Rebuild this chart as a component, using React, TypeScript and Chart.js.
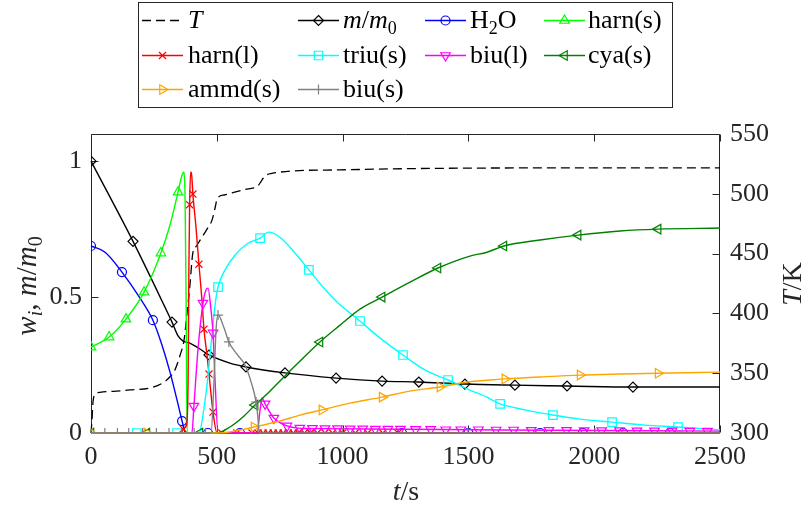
import React, { useEffect, useRef } from "react";
import { Chart, registerables } from "chart.js";

Chart.register(...registerables);

const SERIF = "Liberation Serif";
const INK = "#262626";

const timeTicks = [0, 500, 1000, 1500, 2000, 2500];
const massTicks = [0, 0.5, 1];
const tempTicks = [300, 350, 400, 450, 500, 550];

const tempCurve = [
  [0, 300], [4, 311], [8, 326], [16, 332], [36, 334], [100, 335], [155, 336], [234, 337.6],
  [286, 342], [314, 347], [334, 353], [354, 365], [370, 378], [382, 401], [393, 423],
  [405, 451], [418, 456], [433, 461], [460, 470], [481, 478], [495, 490], [501, 496],
  [530, 499], [564, 501], [620, 504], [660, 506], [675, 510], [684, 513], [700, 516],
  [719, 517], [791, 519], [990, 520], [1256, 521], [1697, 521.6], [2500, 521.6],
];

const massCurve = [
  [0, 1.0], [167, 0.705], [294, 0.463], [322, 0.408], [346, 0.357], [366, 0.338], [393, 0.331],
  [433, 0.309], [469, 0.287], [552, 0.257], [616, 0.243], [771, 0.221], [974, 0.202],
  [1157, 0.191], [1303, 0.1875], [1486, 0.18], [1685, 0.176], [1892, 0.173], [2154, 0.169],
  [2500, 0.169],
];
const massMarks = [
  [0, 1.0], [167, 0.705], [322, 0.408], [469, 0.287], [616, 0.243], [771, 0.221], [974, 0.202],
  [1157, 0.191], [1303, 0.1875], [1486, 0.18], [1685, 0.176], [1892, 0.173], [2154, 0.169],
];

const h2oCurve = [
  [0, 0.688], [56, 0.665], [123, 0.592], [187, 0.507], [246, 0.415], [282, 0.324], [314, 0.224],
  [342, 0.121], [362, 0.044], [374, 0.003], [380, 0], [2500, 0],
];
const h2oMarks = [
  [0, 0.688], [123, 0.592], [246, 0.415], [362, 0.044], [465, 0], [592, 0], [850, 0], [1236, 0],
  [1500, 0], [1785, 0], [1955, 0], [2115, 0], [2301, 0],
];

const harnSCurve = [
  [0, 0.316], [72, 0.353], [139, 0.419], [211, 0.518], [278, 0.662], [314, 0.765], [346, 0.886],
  [362, 0.949], [370, 0.96], [374, 0.857], [378, 0.49], [382, 0], [2500, 0],
];
const harnSMarks = [
  [0, 0.316], [72, 0.353], [139, 0.419], [211, 0.518], [278, 0.662], [346, 0.886],
];

const harnLCurve = [
  [0, 0], [360, 0], [366, 0.015], [380, 0.03], [386, 0.2], [389, 0.6], [392, 0.84], [396, 0.96],
  [400, 0.95], [405, 0.879], [417, 0.76], [429, 0.621], [441, 0.489], [449, 0.382], [461, 0.287],
  [469, 0.217], [485, 0.077], [501, 0], [2500, 0],
];
const harnLMarks = [
  [366, 0.015], [392, 0.84], [405, 0.879], [429, 0.621], [449, 0.382], [469, 0.217], [485, 0.077],
  [520, 0], [580, 0], [640, 0], [664, 0], [684, 0], [704, 0], [724, 0], [744, 0], [764, 0],
  [784, 0], [804, 0], [824, 0], [848, 0], [872, 0], [900, 0], [930, 0], [960, 0], [1000, 0],
  [1050, 0], [1100, 0], [1160, 0], [1220, 0],
];

const triuCurve = [
  [0, 0], [430, 0], [445, 0.066], [461, 0.176], [477, 0.324], [493, 0.47], [505, 0.537],
  [533, 0.6], [572, 0.654], [624, 0.698], [672, 0.717], [707, 0.739], [751, 0.72], [811, 0.662],
  [866, 0.6], [922, 0.537], [978, 0.482], [1069, 0.412], [1149, 0.349], [1240, 0.287],
  [1327, 0.232], [1419, 0.195], [1506, 0.158], [1574, 0.132], [1600, 0.118], [1626, 0.107],
  [1725, 0.085], [1836, 0.066], [1944, 0.051], [2071, 0.04], [2202, 0.029], [2333, 0.022],
  [2500, 0.011],
];
const triuMarks = [
  [182, 0], [342, 0], [505, 0.537], [672, 0.717], [866, 0.6], [1069, 0.412], [1240, 0.287],
  [1419, 0.195], [1626, 0.107], [1836, 0.066], [2071, 0.04], [2333, 0.022],
];

const biuLCurve = [
  [0, 0], [401, 0], [409, 0.099], [425, 0.305], [445, 0.478], [457, 0.526], [465, 0.533],
  [477, 0.452], [485, 0.368], [493, 0.195], [505, 0], [660, 0], [672, 0.085], [680, 0.129],
  [692, 0.107], [727, 0.055], [779, 0.026], [823, 0.018], [910, 0.016], [1228, 0.014],
  [1626, 0.011], [2500, 0.007],
];
const biuLMarks = [
  [409, 0.099], [445, 0.478], [485, 0.368], [692, 0.107], [727, 0.055], [779, 0.026],
  [830, 0.018], [880, 0.017], [930, 0.016], [980, 0.016], [1030, 0.015], [1080, 0.015],
  [1130, 0.014], [1180, 0.014], [1230, 0.014], [1290, 0.013], [1350, 0.013], [1410, 0.012],
  [1470, 0.012], [1540, 0.012], [1610, 0.011], [1680, 0.011], [1750, 0.01], [1820, 0.01],
  [1890, 0.01], [1960, 0.009], [2030, 0.009], [2100, 0.009], [2170, 0.008], [2240, 0.008],
  [2310, 0.008], [2380, 0.007], [2450, 0.007],
];

const cyaCurve = [
  [0, 0], [501, 0], [552, 0.022], [604, 0.059], [652, 0.103], [711, 0.154], [771, 0.21],
  [831, 0.265], [910, 0.335], [990, 0.397], [1069, 0.456], [1157, 0.5], [1268, 0.555],
  [1379, 0.607], [1506, 0.651], [1574, 0.665], [1641, 0.688], [1785, 0.71], [1936, 0.728],
  [2103, 0.743], [2254, 0.75], [2500, 0.754],
];
const cyaMarks = [
  [0, 0], [222, 0], [433, 0], [652, 0.103], [910, 0.335], [1157, 0.5], [1379, 0.607],
  [1641, 0.688], [1936, 0.728], [2254, 0.75],
];

const ammdCurve = [
  [0, 0], [505, 0], [592, 0.011], [648, 0.022], [751, 0.044], [831, 0.066], [918, 0.085],
  [1029, 0.11], [1157, 0.132], [1268, 0.154], [1387, 0.169], [1494, 0.1875], [1586, 0.195],
  [1645, 0.199], [1785, 0.206], [1944, 0.213], [2103, 0.217], [2254, 0.22], [2500, 0.224],
];
const ammdMarks = [
  [0, 0], [222, 0], [648, 0.022], [918, 0.085], [1157, 0.132], [1387, 0.169], [1645, 0.199],
  [1944, 0.213], [2254, 0.22],
];

const biuSCurve = [
  [0, 0], [477, 0], [489, 0.195], [497, 0.379], [505, 0.434], [529, 0.386], [548, 0.335],
  [580, 0.29], [612, 0.25], [640, 0.176], [656, 0.114], [664, 0.05], [668, 0], [2500, 0],
];
const biuSMarks = [
  [0, 0], [55, 0], [105, 0], [150, 0], [205, 0], [260, 0], [310, 0], [360, 0], [410, 0],
  [455, 0], [505, 0.434], [548, 0.335], [656, 0.114], [1000, 0], [1498, 0], [2003, 0],
];

type Seg = { t: string; it?: boolean; sub?: boolean };

const series: {
  name: Seg[]; color: string; curve: number[][]; marks: number[][];
  style: string | null; rot: number; r: number; dash?: number[]; axis: string;
}[] = [
  { name: [{ t: "T", it: true }], color: "#000000", curve: tempCurve, marks: [], style: null, rot: 0, r: 0, dash: [9, 5], axis: "y2" },
  { name: [{ t: "m", it: true }, { t: "/" }, { t: "m", it: true }, { t: "0", sub: true }], color: "#000000", curve: massCurve, marks: massMarks, style: "rectRot", rot: 0, r: 5, axis: "y" },
  { name: [{ t: "H" }, { t: "2", sub: true }, { t: "O" }], color: "#0000ff", curve: h2oCurve, marks: h2oMarks, style: "circle", rot: 0, r: 4.5, axis: "y" },
  { name: [{ t: "harn(s)" }], color: "#00ff00", curve: harnSCurve, marks: harnSMarks, style: "triangle", rot: 0, r: 5.5, axis: "y" },
  { name: [{ t: "harn(l)" }], color: "#ff0000", curve: harnLCurve, marks: harnLMarks, style: "crossRot", rot: 0, r: 5, axis: "y" },
  { name: [{ t: "triu(s)" }], color: "#00ffff", curve: triuCurve, marks: triuMarks, style: "rect", rot: 0, r: 6, axis: "y" },
  { name: [{ t: "biu(l)" }], color: "#ff00ff", curve: biuLCurve, marks: biuLMarks, style: "triangle", rot: 180, r: 5.5, axis: "y" },
  { name: [{ t: "cya(s)" }], color: "#008000", curve: cyaCurve, marks: cyaMarks, style: "triangle", rot: -90, r: 5.5, axis: "y" },
  { name: [{ t: "ammd(s)" }], color: "#ffa500", curve: ammdCurve, marks: ammdMarks, style: "triangle", rot: 90, r: 5.5, axis: "y" },
  { name: [{ t: "biu(s)" }], color: "#808080", curve: biuSCurve, marks: biuSMarks, style: "cross", rot: 0, r: 5, axis: "y" },
];

const xTitle: Seg[] = [{ t: "t", it: true }, { t: "/s" }];
const yTitle: Seg[] = [
  { t: "w", it: true }, { t: "i", it: true, sub: true }, { t: ", " },
  { t: "m", it: true }, { t: "/" }, { t: "m", it: true }, { t: "0", sub: true },
];
const y2Title: Seg[] = [{ t: "T", it: true }, { t: "/K" }];

const legRows = [20, 55, 89];
const legLineX = [142, 298, 425, 544];
const legTextX = [188, 343, 470, 588];

function fontOf(s: Seg, size: number) {
  return `${s.it ? "italic " : ""}${s.sub ? Math.round(size * 0.7) : size}px "${SERIF}"`;
}
function drawRich(ctx: CanvasRenderingContext2D, segs: Seg[], x: number, y: number, size: number, align: string) {
  let total = 0;
  const ws: number[] = [];
  for (const s of segs) {
    ctx.font = fontOf(s, size);
    const w = ctx.measureText(s.t).width;
    ws.push(w);
    total += w;
  }
  let cx = align === "center" ? x - total / 2 : x;
  ctx.textAlign = "left";
  ctx.textBaseline = "alphabetic";
  segs.forEach((s, i) => {
    ctx.font = fontOf(s, size);
    ctx.fillText(s.t, cx, s.sub ? y + size * 0.22 : y);
    cx += ws[i];
  });
}

function drawMarker(ctx: CanvasRenderingContext2D, style: string, x: number, y: number, r: number, rotDeg: number) {
  let rad = (rotDeg * Math.PI) / 180;
  ctx.beginPath();
  if (style === "circle") {
    ctx.arc(x, y, r, 0, Math.PI * 2);
  } else if (style === "rect") {
    const s = r * Math.SQRT1_2;
    ctx.rect(x - s, y - s, 2 * s, 2 * s);
  } else if (style === "rectRot") {
    ctx.moveTo(x, y - r); ctx.lineTo(x + r, y); ctx.lineTo(x, y + r); ctx.lineTo(x - r, y); ctx.closePath();
  } else if (style === "triangle") {
    ctx.moveTo(x + Math.sin(rad) * r, y - Math.cos(rad) * r);
    rad += (2 * Math.PI) / 3;
    ctx.lineTo(x + Math.sin(rad) * r, y - Math.cos(rad) * r);
    rad += (2 * Math.PI) / 3;
    ctx.lineTo(x + Math.sin(rad) * r, y - Math.cos(rad) * r);
    ctx.closePath();
  } else if (style === "cross") {
    ctx.moveTo(x - r, y); ctx.lineTo(x + r, y); ctx.moveTo(x, y - r); ctx.lineTo(x, y + r);
  } else if (style === "crossRot") {
    const d = r * Math.SQRT1_2;
    ctx.moveTo(x - d, y - d); ctx.lineTo(x + d, y + d); ctx.moveTo(x - d, y + d); ctx.lineTo(x + d, y - d);
  }
  ctx.stroke();
}

const framePlugin = {
  id: "frame",
  beforeDatasetsDraw(chart: any) {
    const { ctx, chartArea: a, scales } = chart;
    const L = Math.round(a.left) + 0.5, R = Math.round(a.right) - 0.5;
    const T = Math.round(a.top) + 0.5, B = Math.round(a.bottom) - 0.5;
    ctx.save();
    ctx.strokeStyle = INK;
    ctx.lineWidth = 1;
    ctx.beginPath();
    ctx.rect(L, T, R - L, B - T);
    const tl = 7;
    for (const v of timeTicks) {
      const px = Math.round(scales.x.getPixelForValue(v)) + 0.5;
      ctx.moveTo(px, B); ctx.lineTo(px, B - tl);
      ctx.moveTo(px, T); ctx.lineTo(px, T + tl);
    }
    for (const v of massTicks) {
      const py = Math.round(scales.y.getPixelForValue(v)) + 0.5;
      ctx.moveTo(L, py); ctx.lineTo(L + tl, py);
    }
    for (const v of tempTicks) {
      const py = Math.round(scales.y2.getPixelForValue(v)) + 0.5;
      ctx.moveTo(R, py); ctx.lineTo(R - tl, py);
    }
    ctx.stroke();
    ctx.restore();
  },
  afterDraw(chart: any) {
    const { ctx } = chart;
    ctx.save();
    ctx.fillStyle = INK;
    drawRich(ctx, xTitle, 406, 500, 28, "center");
    ctx.save();
    ctx.translate(36, 286);
    ctx.rotate(-Math.PI / 2);
    drawRich(ctx, yTitle, 0, 0, 29, "center");
    ctx.restore();
    ctx.save();
    ctx.translate(801, 284);
    ctx.rotate(-Math.PI / 2);
    drawRich(ctx, y2Title, 0, 0, 28, "center");
    ctx.restore();

    ctx.fillStyle = "#ffffff";
    ctx.fillRect(138, 2, 534, 105);
    ctx.strokeStyle = INK;
    ctx.lineWidth = 1;
    ctx.strokeRect(138.5, 2.5, 534, 105);
    series.forEach((s, i) => {
      const row = Math.floor(i / 4), col = i % 4;
      const y = legRows[row];
      const x0 = legLineX[col], x1 = x0 + 41;
      ctx.strokeStyle = s.color;
      ctx.lineWidth = s.dash ? 1.3 : 1.4;
      ctx.setLineDash(s.dash || []);
      ctx.beginPath();
      ctx.moveTo(x0, y + 0.5);
      ctx.lineTo(x1, y + 0.5);
      ctx.stroke();
      ctx.setLineDash([]);
      if (s.style) {
        ctx.lineWidth = 1.2;
        drawMarker(ctx, s.style, (x0 + x1) / 2, y + 0.5, s.r, s.rot);
      }
      ctx.fillStyle = "#000000";
      drawRich(ctx, s.name, legTextX[col], y + 8, 26, "left");
    });
    ctx.restore();
  },
};

function buildDatasets() {
  const ds: any[] = [];
  series.forEach((s, i) => {
    ds.push({
      label: "line" + i,
      data: s.curve.map(([x, y]) => ({ x, y })),
      yAxisID: s.axis,
      borderColor: s.color,
      borderWidth: s.dash ? 1.3 : 1.4,
      borderDash: s.dash || [],
      pointRadius: 0,
      fill: false,
      cubicInterpolationMode: "monotone",
      order: 100 - i * 2,
      clip: 1,
    });
    if (s.style) {
      ds.push({
        label: "marks" + i,
        data: s.marks.map(([x, y]) => ({ x, y })),
        yAxisID: s.axis,
        showLine: false,
        borderColor: s.color,
        borderWidth: 1,
        pointStyle: s.style,
        pointRotation: s.rot,
        pointRadius: s.r,
        pointBorderColor: s.color,
        pointBackgroundColor: "rgba(0,0,0,0)",
        pointBorderWidth: 1.2,
        order: 100 - i * 2 - 1,
      });
    }
  });
  return ds;
}

const tickFont = { family: '"' + SERIF + '"', size: 26 };

export default function App() {
  const ref = useRef<HTMLCanvasElement>(null);
  useEffect(() => {
    const chart = new Chart(ref.current as HTMLCanvasElement, {
      type: "line",
      data: { datasets: buildDatasets() },
      options: {
        responsive: false,
        animation: false,
        events: [],
        layout: { padding: { top: 134, left: 0, right: 0, bottom: 0 } },
        plugins: { legend: { display: false }, tooltip: { enabled: false }, title: { display: false } },
        scales: {
          x: {
            type: "linear",
            min: 0,
            max: 2500,
            afterBuildTicks: (sc: any) => { sc.ticks = timeTicks.map((v) => ({ value: v })); },
            afterFit: (sc: any) => { sc.height = 76; },
            grid: { display: false, drawTicks: false },
            border: { display: false },
            ticks: { font: tickFont, color: INK, padding: 9, maxRotation: 0, autoSkip: false, callback: (v: any) => String(v) },
          },
          y: {
            type: "linear",
            position: "left",
            min: 0,
            max: 1.1,
            afterBuildTicks: (sc: any) => { sc.ticks = massTicks.map((v) => ({ value: v })); },
            afterFit: (sc: any) => { sc.width = 91; },
            grid: { display: false, drawTicks: false },
            border: { display: false },
            ticks: { font: tickFont, color: INK, padding: 9, autoSkip: false, callback: (v: any) => String(v) },
          },
          y2: {
            type: "linear",
            position: "right",
            min: 300,
            max: 550,
            afterBuildTicks: (sc: any) => { sc.ticks = tempTicks.map((v) => ({ value: v })); },
            afterFit: (sc: any) => { sc.width = 86; },
            grid: { display: false, drawTicks: false },
            border: { display: false },
            ticks: { font: tickFont, color: INK, padding: 10, autoSkip: false, callback: (v: any) => String(v) },
          },
        },
      } as any,
      plugins: [framePlugin],
    });
    return () => chart.destroy();
  }, []);
  return (
    <div style={{ position: "absolute", left: 0, top: 0, width: 806, height: 509, background: "#ffffff" }}>
      <canvas ref={ref} width={806} height={509} style={{ display: "block", width: 806, height: 509 }} />
    </div>
  );
}
